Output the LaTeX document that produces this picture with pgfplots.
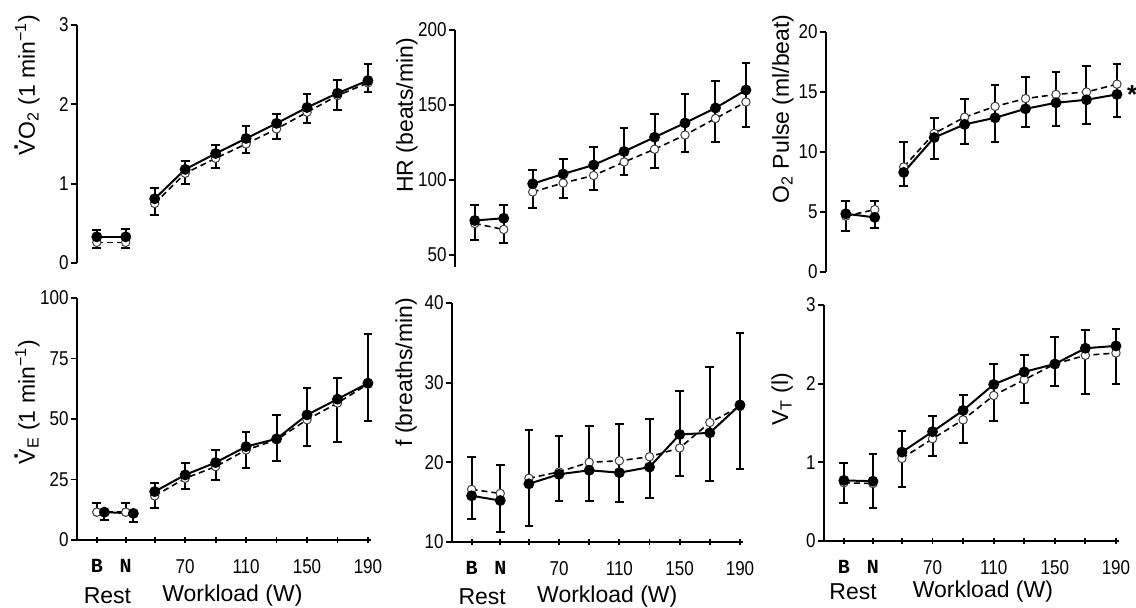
\documentclass[border=0pt]{standalone}
\usepackage{fontspec}
\setmainfont{Liberation Sans}
\newfontfamily\monob{Liberation Mono}
\newfontfamily\narrow{Liberation Sans}[FakeStretch=0.85]
\usepackage{pgfplots}
\usepackage{pgfplotstable}
\pgfplotsset{compat=1.18}

\newcommand\dotV{\rlap{\hspace{0.19em}\raisebox{0.74em}{\bfseries .}}V}

% x: B=12, N=31, then workload (W); f = filled (solid), o = open (dashed)
\pgfplotstableread{
x xo f o hi lo
12 12 0.33 0.26 0.42 0.19
31 31 0.33 0.26 0.43 0.19
50 50 0.81 0.75 0.94 0.61
70 70 1.18 1.13 1.29 0.99
90 90 1.38 1.32 1.49 1.20
110 110 1.57 1.50 1.73 1.39
130 130 1.76 1.69 1.88 1.56
150 150 1.96 1.90 2.13 1.77
170 170 2.14 2.11 2.31 1.93
190 190 2.30 2.27 2.51 2.16
}\tvo

\pgfplotstableread{
x xo f o hi lo
12 12 73 71 83 60
31 31 74.5 67 83 58
50 50 97.5 92 106.5 81
70 70 104 98 114 88
90 90 110 103 122 93
110 110 119 112 134.5 103
130 130 128.5 120.5 144 108
150 150 138 130 157 118.5
170 170 148 141 166 125.5
190 190 160 152 178 135
}\thr

\pgfplotstableread{
x xo f o hi lo
12 12 4.85 4.65 5.95 3.45
31 31 4.55 5.2 5.95 3.7
50 50 8.3 8.75 10.8 7.2
70 70 11.2 11.55 12.8 9.45
90 90 12.3 12.9 14.4 10.7
110 110 12.85 13.8 15.55 10.85
130 130 13.6 14.45 16.25 12.1
150 150 14.1 14.8 16.65 12.15
170 170 14.35 15.0 17.2 12.35
190 190 14.8 15.65 17.35 12.9
}\tpulse

\pgfplotstableread{
x xo f o hi lo
17 12 11.5 11.5 15.2 8.3
36 31 11.0 11.5 15.2 7.6
50 50 20 18.2 23.4 13.1
70 70 26.9 25.5 32 21.1
90 90 32 30.3 37 24.6
110 110 38.6 37.2 44.8 29.9
130 130 41.8 41.4 51.7 32.7
150 150 51.7 49.7 62.8 38.9
170 170 58.2 56.6 66.9 40.3
190 190 64.8 64.4 85.2 49
}\tve

\pgfplotstableread{
x xo f o hi lo
12 12 15.8 16.6 20.7 12.9
31 31 15.2 16.1 19.7 11.2
50 50 17.3 18.0 24.1 12.0
70 70 18.5 18.8 23.3 15.2
90 90 19.0 20.0 24.6 15.2
110 110 18.7 20.2 24.8 15.0
130 130 19.4 20.7 25.5 15.5
150 150 23.5 21.8 28.9 18.3
170 170 23.7 25.0 32.0 17.7
190 190 27.2 27.0 36.2 19.2
}\tf

\pgfplotstableread{
x xo f o hi lo
12 12 0.77 0.74 0.99 0.48
31 31 0.76 0.73 1.10 0.42
50 50 1.13 1.05 1.40 0.69
70 70 1.39 1.30 1.59 1.08
90 90 1.66 1.54 1.85 1.24
110 110 1.99 1.85 2.25 1.53
130 130 2.15 2.05 2.36 1.75
150 150 2.25 2.25 2.59 1.97
170 170 2.45 2.36 2.68 1.87
190 190 2.48 2.39 2.70 2.00
}\tvt

\tikzset{lab/.style={font=\fontsize{11.5}{13}\selectfont, anchor=center}}

\pgfplotsset{
  panel/.style={
    scale only axis, xmin=-1, xmax=192, clip=false, anchor=south west,
    axis y line=left, tick align=outside,
    major tick length=3pt,
    every tick/.style={line width=0.9pt, black},
    tick label style={font=\narrow\fontsize{10}{10}\selectfont},
    /pgf/number format/assume math mode=true,
    yticklabel style={inner xsep=1pt},
    label style={font=\fontsize{11.5}{13}\selectfont},
    ylabel style={anchor=base},
  },
  toprow/.style={panel, axis x line=none,
    axis line style={-, line width=1pt, black}},
  botrow/.style={panel, axis x line=bottom,
    axis line style={-, line width=1pt, black},
    x axis line style={-}, y axis line style={-},
    xtick={12,31,50,70,90,110,130,150,170,190},
    xticklabels={{\monob\bfseries B},{\monob\bfseries N},,70,,110,,150,,190},
    xticklabel style={yshift=-4.5pt}},
  solidline/.style={black, line width=1pt, mark=*, mark size=2.2pt,
    mark options={solid, fill=black}},
  dashline/.style={black, line width=0.8pt, dash pattern=on 3pt off 2pt,
    mark=*, mark size=2.1pt,
    mark options={solid, fill=white, draw=black!75, line width=0.5pt}},
  ebar/.style={only marks, mark=none, error bars/.cd, y explicit,
    error bar style={line width=1pt, black, solid},
    error mark options={rotate=90, mark size=2.2pt, line width=1pt, black, solid},
    y dir=#1},
}

\newcommand\lines[1]{%
  \addplot[dashline, skip coords between index={2}{10}] table[x=xo, y=o] {#1};
  \addplot[dashline, skip coords between index={0}{2}] table[x=xo, y=o] {#1};
  \addplot[solidline, skip coords between index={2}{10}] table[x=x, y=f] {#1};
  \addplot[solidline, skip coords between index={0}{2}] table[x=x, y=f] {#1};
}
\newcommand\bars[1]{%
  \addplot[ebar=both] table[x=x, y=f,
    y error plus expr=\thisrow{hi}-\thisrow{f},
    y error minus expr=\thisrow{f}-\thisrow{lo}] {#1};
}

\begin{document}
\begin{tikzpicture}
\path[use as bounding box] (0,0) rectangle (568pt,304pt);

% VO2
\begin{axis}[toprow, at={(38.5pt,172.5pt)}, width=147pt, height=119pt,
  ymin=0, ymax=3, ytick={0,1,2,3},
  ylabel={\dotV O\textsubscript{2} (1 min\textsuperscript{−1})},
  ylabel style={at={(axis description cs:-0.143,0.748)}}]
\bars{\tvo}
\lines{\tvo}
\end{axis}

% HR
\begin{axis}[toprow, at={(227.5pt,170.5pt)}, width=147pt, height=118.5pt,
  ymin=42, ymax=200, ytick={50,100,150,200},
  ylabel={HR (beats/min)},
  ylabel style={at={(axis description cs:-0.143,0.64)}}]
\bars{\thr}
\lines{\thr}
\end{axis}

% O2 pulse
\begin{axis}[toprow, at={(413pt,168pt)}, width=147pt, height=120pt,
  ymin=0, ymax=20, ytick={0,5,10,15,20},
  ylabel={O\textsubscript{2} Pulse (ml/beat)},
  ylabel style={at={(axis description cs:-0.126,0.68)}}]
\bars{\tpulse}
\lines{\tpulse}
\node[font=\fontsize{13}{13}\selectfont\bfseries] at (axis cs:200,14.8) {*};
\end{axis}

% VE
\begin{axis}[botrow, at={(38.5pt,34pt)}, width=147pt, height=121pt,
  ymin=0, ymax=100, ytick={0,25,50,75,100},
  ylabel={\dotV\textsubscript{E} (1 min\textsuperscript{−1})},
  ylabel style={at={(axis description cs:-0.143,0.57)}}]
\addplot[skip coords between index={0}{2}, ebar=both] table[x=x, y=f,
    y error plus expr=\thisrow{hi}-\thisrow{f},
    y error minus expr=\thisrow{f}-\thisrow{lo}] {\tve};
\addplot[skip coords between index={2}{10}, ebar=plus] table[x=xo, y=o,
    y error plus expr=\thisrow{hi}-\thisrow{o}] {\tve};
\addplot[skip coords between index={2}{10}, ebar=minus] table[x=x, y=f,
    y error minus expr=\thisrow{f}-\thisrow{lo}] {\tve};
\lines{\tve}
\node[lab] at (axis cs:19,0) [yshift=-28pt] {Rest};
\node[lab] at (axis cs:101,0) [yshift=-28pt] {Workload (W)};
\end{axis}

% f
\begin{axis}[botrow, at={(226pt,33pt)}, width=145.5pt, height=119.5pt,
  ymin=10, ymax=40, ytick={10,20,30,40},
  ylabel={f (breaths/min)},
  ylabel style={at={(axis description cs:-0.137,0.71)}}]
\bars{\tf}
\lines{\tf}
\node[lab] at (axis cs:19,10) [yshift=-27.5pt] {Rest};
\node[lab] at (axis cs:102,10) [yshift=-27.5pt] {Workload (W)};
\end{axis}

% VT
\begin{axis}[botrow, at={(412pt,33.5pt)}, width=147.5pt, height=118pt,
  ymin=0, ymax=3, ytick={0,1,2,3},
  ylabel={V\textsubscript{T} (l)},
  ylabel style={at={(axis description cs:-0.122,0.60)}}]
\bars{\tvt}
\lines{\tvt}
\node[lab] at (axis cs:18,0) [yshift=-25.5pt] {Rest};
\node[lab] at (axis cs:103,0) [yshift=-25.5pt] {Workload (W)};
\end{axis}
\end{tikzpicture}
\end{document}
